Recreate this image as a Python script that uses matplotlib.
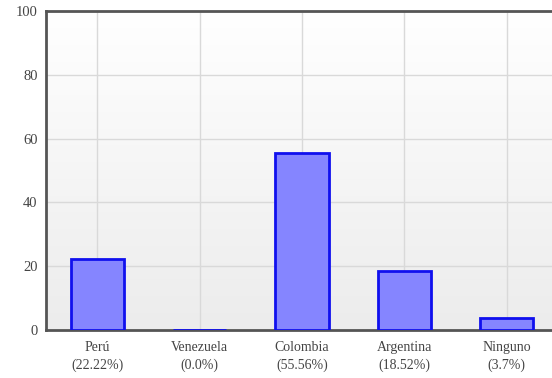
import numpy as np
import matplotlib.pyplot as plt
from matplotlib.colors import LinearSegmentedColormap

# datos
paises = ["Perú", "Venezuela", "Colombia", "Argentina", "Ninguno"]
porcentajes = [22.22, 0.0, 55.56, 18.52, 3.7]
yticks = [0, 20, 40, 60, 80, 100]

etiquetas = [f"{p}\n({v}%)" for p, v in zip(paises, porcentajes)]

plt.rcParams["font.family"] = ["Liberation Serif", "DejaVu Serif"]

fig = plt.figure(figsize=(5.52, 3.78), dpi=100)
# el área de dibujo sigue más allá del borde derecho
ax = fig.add_axes([46 / 552, 1 - 330 / 378, 512 / 552, 319 / 378])

x = np.arange(len(paises))
ax.set_xlim(-0.5, len(paises) - 0.5)
ax.set_ylim(0, 100)

# fondo degradado blanco -> gris claro
cmap = LinearSegmentedColormap.from_list("fondo", ["#ececec", "#ffffff"])
grad = np.linspace(0, 1, 256).reshape(-1, 1)
ax.imshow(grad, cmap=cmap, extent=[-0.5, len(paises) - 0.5, 0, 100],
          origin="lower", aspect="auto", zorder=0)

ax.grid(True, color="#d9d9d9", linewidth=1.0, zorder=1)
ax.set_axisbelow(True)

ax.bar(x, porcentajes, width=0.52, color="#8585ff", edgecolor="#1010ee",
       linewidth=2.0, zorder=3)

ax.set_xticks(x)
ax.set_xticklabels(etiquetas, fontsize=10, color="#444444", linespacing=1.45)
ax.set_yticks(yticks)
ax.set_yticklabels([str(t) for t in yticks], fontsize=10.5, color="#444444")
ax.tick_params(length=0)
ax.tick_params(axis="y", pad=6)
ax.tick_params(axis="x", pad=8)

for lado in ["top", "left", "bottom"]:
    ax.spines[lado].set_color("#555555")
    ax.spines[lado].set_linewidth(2)
ax.spines["right"].set_visible(False)

fig.savefig("out.png", dpi=100)
